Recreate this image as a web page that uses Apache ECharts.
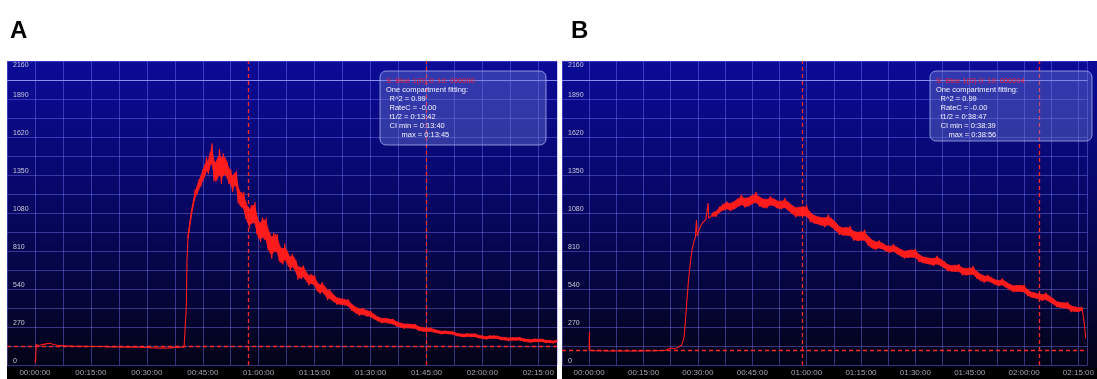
<!DOCTYPE html>
<html><head><meta charset="utf-8">
<script src="https://cdn.jsdelivr.net/npm/echarts@6/dist/echarts.min.js"></script>
<style>html,body{margin:0;padding:0;background:#fff;}#c{width:1097px;height:379px;}</style>
</head><body><div id="c"></div>
<script>
// ---------- DATA (time in minutes, signal in counts) ----------
const panelLabels = ['A', 'B'];

// Panel A: baseline + rise (typed [t, value] pairs)
const preA = [[0,40],[0.15,18],[0.35,145],[1,138],[2,145],[3,150],[4,154],[5,146],[6,140],[8,136],[10,134],[12,133],[15,131],[18,131],[20,129],[22,128],[25,127],[28,126],[30,124],[32,121],[34,120],[36,122],[38,125],[40,128],[40.45,132],[40.6,420],[40.75,724]];
// Panel A: noisy segment sampled every 0.5 min from 41 min
const noisyA1Start = 41, noisyA1Step = 0.5;
const noisyA1 = [885,996,1096,1142,1248,1212,1320,1270,1388,1335,1475,1355,1465,1575,1305,1425,1325,1535,1285,1505,1355,1445,1285,1390,1230,1335,1376,1148,1226,1120,1230,1040,1130,970,1135,1005,1160,930,1015,875,1050,890,1045,815,940,755,940,805,930,735,828,715,863,725,787,670,790,687,744,606,700,611,708,607,650,564,648,572,637,531,575,505,590,505,550,460,540,461,502];
// Panel A: tail sampled every 1 min from 81 min
const noisyA2Start = 81, noisyA2Step = 1;
const noisyA2 = [430,471,427,466,385,412,351,405,345,383,326,340,298,334,295,327,273,300,259,293,262,290,242,265,235,266,233,246,220,242,221,238,208,221,198,224,200,223,192,206,183,208,190,207,178,196,172,195,176,197,169,182,160,186,165,185,158,174,156,174];
const cursorsA = [57.1, 104.9];
const baselineA = 130;
const infoA = ['S: Blue 1(D) 0: 10: 000000', 'One compartment fitting:', 'R^2 = 0.99', 'RateC = -0.00', 't1/2 = 0:13:42', 'CI min = 0:13:40', 'max = 0:13:45'];

// Panel B: baseline + rise (typed [t, value] pairs)
const preB = [[0,105],[0.05,234],[0.15,104],[1,102],[3,101],[6,100],[10,99],[14,100],[18,101],[21,104],[22.5,120],[23.5,116],[24.5,124],[25.5,140],[25.8,145],[26.2,200],[26.6,330],[27,470],[27.4,600],[27.9,725],[28.4,820],[28.9,875],[29.3,909],[29.6,1030],[29.8,915],[30.3,960],[30.9,995],[31.5,1015],[32.2,1035],[32.8,1150],[33,1045],[33.6,1055]];
// Panel B: noisy segment sampled every 1 min from 34 min
const noisyBStart = 34, noisyBStep = 1;
const noisyB = [1072,1055,1125,1102,1160,1093,1158,1125,1208,1118,1185,1145,1230,1126,1176,1113,1198,1132,1159,1106,1187,1095,1134,1050,1123,1059,1135,1016,1061,1004,1048,979,1068,977,1015,926,973,921,986,884,939,886,960,847,888,816,884,826,842,798,859,788,820,756,815,765,824,732,767,724,759,705,775,704,735,667,705,665,717,638,682,643,701,613,643,586,639,589,601,562,614,551,575,518,566,522,570,489,516,478,505,456,513,449,473,412,442,405,447,377,413,379,406];
const tailB = [[136.6,300],[137,190]];
const cursorsB = [58.9, 124.1];
const baselineB = 108;
const infoB = ['S: Blue 1(D) 0: 10: 000004', 'One compartment fitting:', 'R^2 = 0.99', 'RateC = -0.00', 't1/2 = 0:38:47', 'CI min = 0:38:39', 'max = 0:38:56'];

// ---------- BUILD ----------
function seq(start, step, vals) { return vals.map((v, i) => [start + i * step, v]); }
const noisyPtsA = seq(noisyA1Start, noisyA1Step, noisyA1).concat(seq(noisyA2Start, noisyA2Step, noisyA2));
const noisyPtsB = seq(noisyBStart, noisyBStep, noisyB);
const dataA = preA.concat(noisyPtsA);
const dataB = preB.concat(noisyPtsB, tailB);

const pad = n => (n < 10 ? '0' : '') + n;
function timeFmt(v) {
  if (v < 0 || Math.abs(v % 15) > 1e-6) return '';
  const h = Math.floor(v / 60), m = Math.round(v % 60);
  return pad(h) + ':' + pad(m) + ':00';
}
function yFmt(v) {
  if (v % 270 !== 0) return '';
  return v === 2160 ? '{t|' + v + '}' : String(v);
}

const RED = '#ff1c1c';
const gridLine = { show: true, lineStyle: { color: 'rgba(125,125,255,0.42)', width: 1 } };
const F = 'Liberation Sans';

function xAxis(idx, max) {
  return {
    type: 'value', gridIndex: idx, min: -7.5, max: max, interval: 7.5,
    axisLine: { show: false }, axisTick: { show: false }, splitLine: gridLine,
    axisLabel: { formatter: timeFmt, color: '#a4a4b4', fontSize: 8, fontFamily: F, margin: 4, hideOverlap: false }
  };
}
function yAxis(idx) {
  return {
    type: 'value', gridIndex: idx, min: 0, max: 2160, interval: 135,
    axisLine: { show: false }, axisTick: { show: false }, splitLine: gridLine,
    axisLabel: {
      inside: true, formatter: yFmt, color: '#c8c8dc', fontSize: 7, fontFamily: F,
      margin: 6, verticalAlign: 'middle', padding: [0, 0, 8, 0],
      rich: { t: { color: '#c8c8dc', fontSize: 7, fontFamily: F, padding: [16, 0, 0, 0] } }
    }
  };
}
function series(idx, data, cursors, base) {
  const ml = cursors.map(c => ({ xAxis: c })).concat([{ yAxis: base }]);
  ml.push({ yAxis: 2025, lineStyle: { type: 'solid', color: 'rgba(165,165,255,0.75)', width: 1 } });
  return {
    type: 'line', xAxisIndex: idx, yAxisIndex: idx, data: data, showSymbol: false,
    lineStyle: { color: RED, width: 1.1 }, animation: false, z: 3,
    markLine: {
      silent: true, symbol: ['none', 'none'], label: { show: false }, animation: false,
      lineStyle: { color: '#ff2a2a', type: [4, 3], width: 1.3 }, data: ml
    }
  };
}
// Solid core of the noisy trace: local centre of the typed samples +/- part of their local spread
function coreBand(idx, pts, frac) {
  return {
    type: 'custom', xAxisIndex: idx, yAxisIndex: idx, data: [0], silent: true, animation: false, z: 2,
    renderItem: function (params, api) {
      const n = pts.length, m = [], d = [];
      for (let i = 0; i < n; i++) {
        const a = pts[Math.max(0, i - 1)][1], b = pts[i][1], c = pts[Math.min(n - 1, i + 1)][1];
        m.push((a + 2 * b + c) / 4);
        d.push(Math.abs(b - (a + c) / 2) / 2);
      }
      const up = [], lo = [];
      for (let i = 0; i < n; i++) {
        let s = 0, k = 0;
        for (let j = i - 2; j <= i + 2; j++) if (j >= 0 && j < n) { s += d[j]; k++; }
        const w = s / k * frac;
        up.push(api.coord([pts[i][0], m[i] + w]));
        lo.push(api.coord([pts[i][0], m[i] - w]));
      }
      return { type: 'polygon', shape: { points: up.concat(lo.reverse()) },
        style: { fill: RED, stroke: RED, lineWidth: 0.8 } };
    }
  };
}

const bgGrad = new echarts.graphic.LinearGradient(0, 0, 0, 1, [
  { offset: 0, color: '#0b0b98' }, { offset: 0.4, color: '#08086c' },
  { offset: 0.75, color: '#05053c' }, { offset: 1, color: '#030316' }]);

function infoBox(x, y, w, h, lines, ind, indMax) {
  const els = [{ type: 'rect', shape: { x: x, y: y, width: w, height: h, r: 6 },
    style: { fill: 'rgba(110,125,215,0.40)', stroke: 'rgba(175,185,245,0.75)', lineWidth: 1 }, z: 50 }];
  lines.forEach((s, i) => {
    const dx = i === 0 || i === 1 ? 6 : (i === 6 ? indMax : ind);
    els.push({ type: 'text', x: x + dx, y: y + 10 + i * 9, z: 51,
      style: { text: s, fill: i === 0 ? '#e8203a' : '#f2f2ff', font: '7.5px "' + F + '"', textVerticalAlign: 'middle' } });
  });
  return els;
}

const graphic = [
  { type: 'rect', shape: { x: 7, y: 61, width: 550, height: 307 }, style: { fill: bgGrad }, z: -10, silent: true },
  { type: 'rect', shape: { x: 562, y: 61, width: 535, height: 307 }, style: { fill: bgGrad }, z: -10, silent: true },
  { type: 'rect', shape: { x: 7, y: 368, width: 550, height: 11 }, style: { fill: '#000' }, z: -10, silent: true },
  { type: 'rect', shape: { x: 562, y: 368, width: 535, height: 11 }, style: { fill: '#000' }, z: -10, silent: true }
].concat(infoBox(380, 71, 166, 74, infoA, 9.5, 21.5), infoBox(930, 71, 162, 70, infoB, 10.5, 18.5));

const chart = echarts.init(document.getElementById('c'), null, { renderer: 'canvas' });
chart.setOption({
  animation: false,
  backgroundColor: '#ffffff',
  title: [
    { text: panelLabels[0], left: 5, top: 14, textStyle: { fontSize: 24, fontWeight: 'bold', color: '#000', fontFamily: F } },
    { text: panelLabels[1], left: 566, top: 14, textStyle: { fontSize: 24, fontWeight: 'bold', color: '#000', fontFamily: F } }
  ],
  grid: [
    { left: 7, top: 61, width: 550, height: 304 },
    { left: 562, top: 61, width: 535, height: 304 }
  ],
  xAxis: [xAxis(0, 140), xAxis(1, 137.5)],
  yAxis: [yAxis(0), yAxis(1)],
  series: [series(0, dataA, cursorsA, baselineA), series(1, dataB, cursorsB, baselineB),
           coreBand(0, noisyPtsA, 0.75), coreBand(1, noisyPtsB, 0.8)],
  graphic: graphic
});
</script></body></html>
